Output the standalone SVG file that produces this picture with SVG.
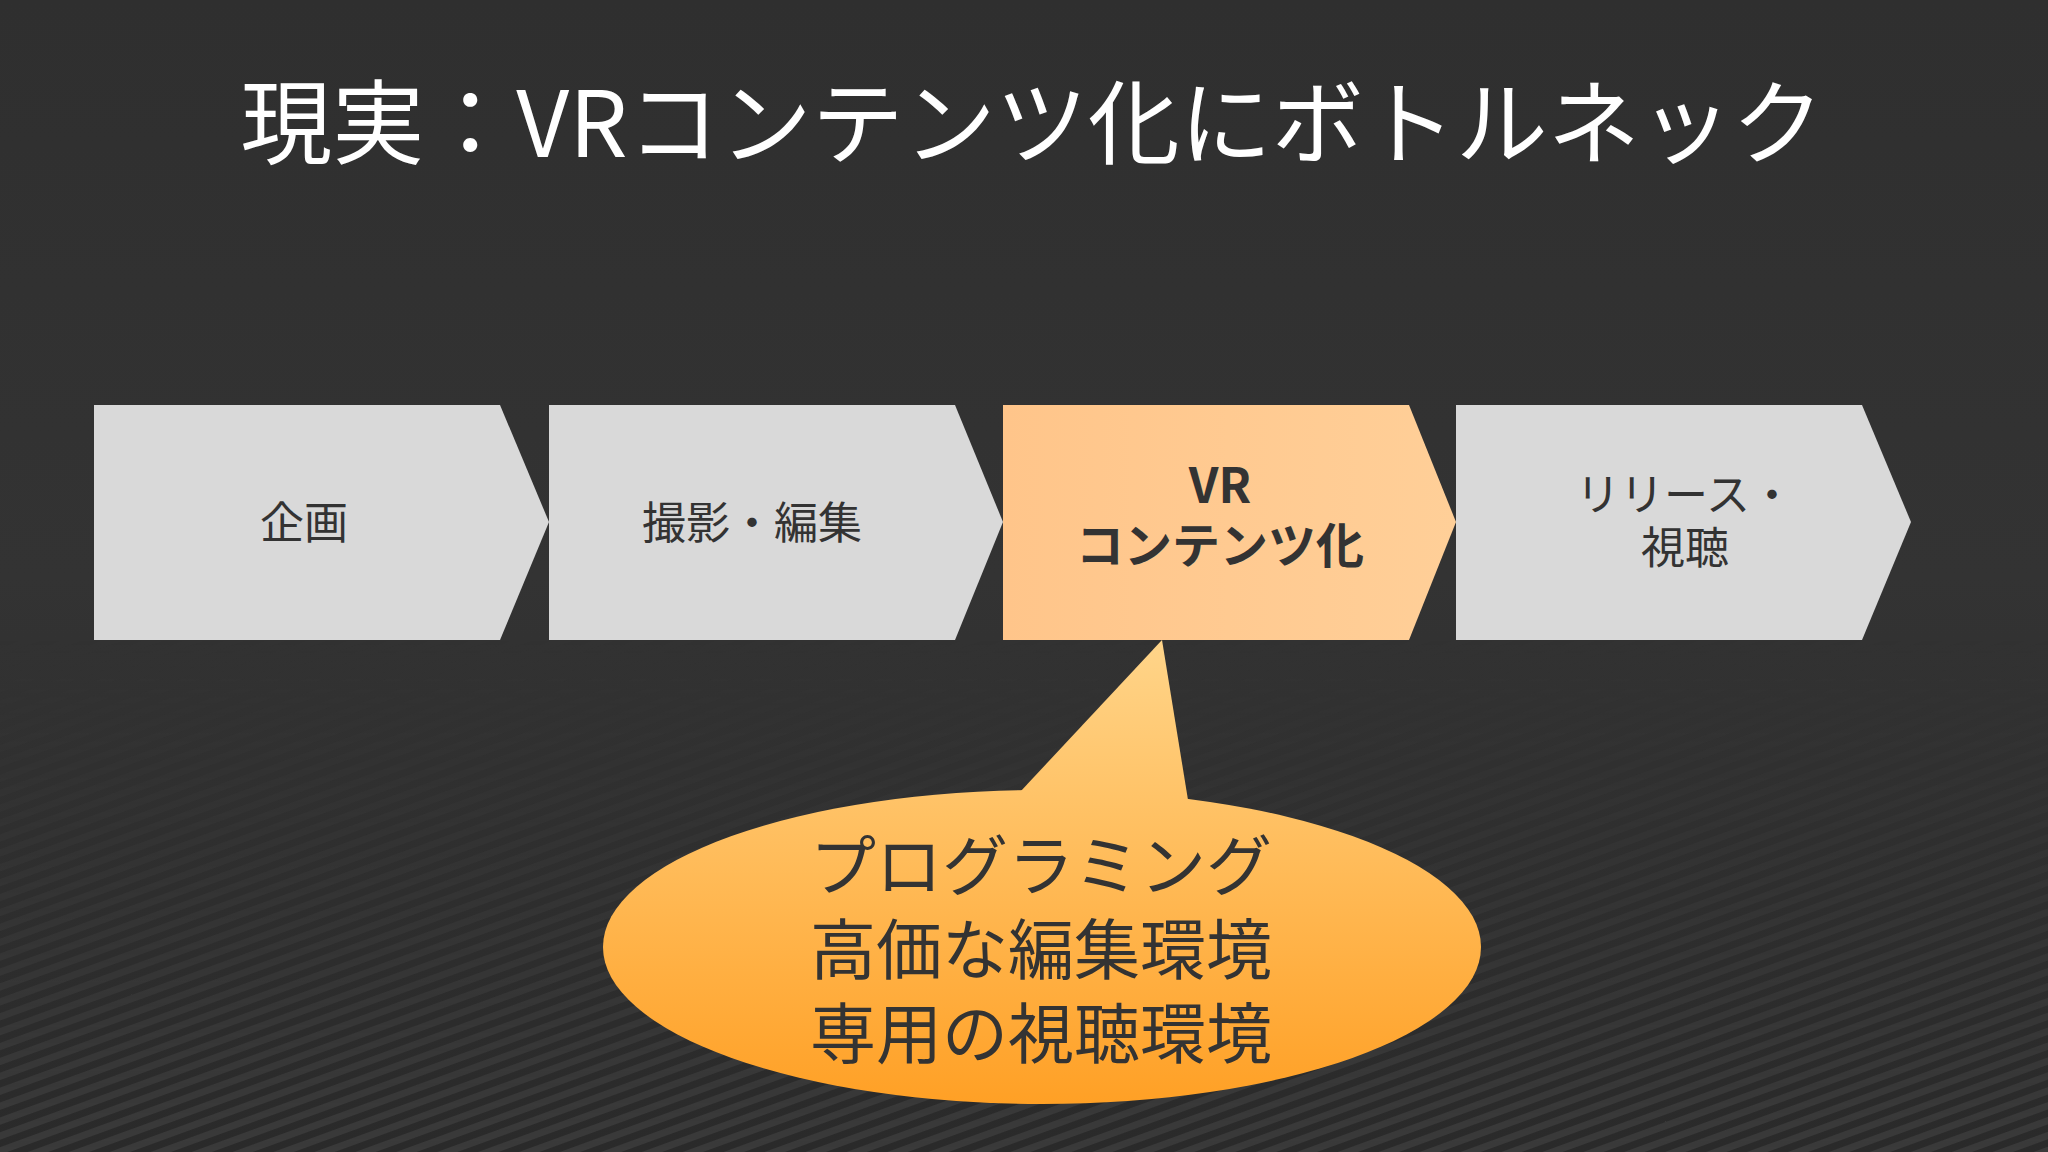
<svg xmlns="http://www.w3.org/2000/svg" width="2048" height="1152" viewBox="0 0 2048 1152">
<defs>
<linearGradient id="bg" x1="0" y1="0" x2="0" y2="1"><stop offset="0" stop-color="#2f2f2f"/><stop offset="0.5" stop-color="#333"/><stop offset="1" stop-color="#2a2a2a"/></linearGradient>
<pattern id="stripes" width="14" height="14" patternUnits="userSpaceOnUse" patternTransform="rotate(-20)"><rect width="14" height="7" fill="#3a3a3a"/></pattern>
<linearGradient id="fade" x1="0" y1="0" x2="0" y2="1"><stop offset="0" stop-color="#fff" stop-opacity="0"/><stop offset="1" stop-color="#fff" stop-opacity="1"/></linearGradient>
<mask id="m"><rect x="0" y="640" width="2048" height="512" fill="url(#fade)"/></mask>
<linearGradient id="orange" gradientUnits="userSpaceOnUse" x1="0" y1="640" x2="0" y2="1104"><stop offset="0" stop-color="#FFD58A"/><stop offset="1" stop-color="#FFA025"/></linearGradient>
<linearGradient id="chev" x1="0" y1="0" x2="1" y2="0"><stop offset="0" stop-color="#FFC58A"/><stop offset="1" stop-color="#FFCF98"/></linearGradient>
<style>
.g{fill:#D9D9D9}
.t{font-family:"Noto Sans CJK JP","Noto Sans",sans-serif;fill:#333;text-anchor:middle}
</style>
</defs>
<rect width="2048" height="1152" fill="url(#bg)"/>
<rect width="2048" height="1152" fill="url(#stripes)" mask="url(#m)"/>
<text x="1032" y="157" font-family="Noto Sans CJK JP, sans-serif" font-size="92" fill="#fff" text-anchor="middle">現実：VRコンテンツ化にボトルネック</text>
<g id="n1"><polygon class="g" points="94,405 500,405 549,522 500,640 94,640"/><text class="t" x="304" y="539" font-size="44">企画</text></g>
<g id="n2"><polygon class="g" points="549,405 955,405 1003,522 955,640 549,640"/><text class="t" x="752" y="539" font-size="44">撮影・編集</text></g>
<g id="n3"><polygon fill="url(#chev)" points="1003,405 1409,405 1456,522 1409,640 1003,640"/><text class="t" x="1220" y="503" font-size="48" font-weight="bold">VR</text><text class="t" x="1220" y="563" font-size="48" font-weight="bold">コンテンツ化</text></g>
<g id="n4"><polygon class="g" points="1456,405 1862,405 1911,522 1862,640 1456,640"/><text class="t" x="1685" y="511" font-size="44">リリース・</text><text class="t" x="1685" y="564" font-size="44">視聴</text></g>
<g id="callout">
<ellipse cx="1042" cy="947" rx="439" ry="157" fill="url(#orange)"/>
<polygon points="1020,792 1162,640 1188,800" fill="url(#orange)"/>
<text class="t" x="1041" y="890" font-size="66">プログラミング</text>
<text class="t" x="1041" y="974" font-size="66">高価な編集環境</text>
<text class="t" x="1041" y="1058" font-size="66">専用の視聴環境</text>
</g>
<g id="connectors"/>
</svg>
